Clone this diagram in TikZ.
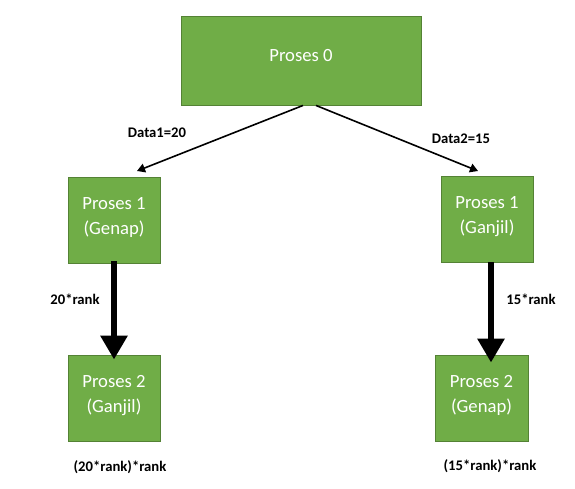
\documentclass[tikz,border=0pt]{standalone}
\usepackage{fontspec}
\setmainfont{Carlito}
\usetikzlibrary{arrows.meta}
\definecolor{boxgreen}{RGB}{112,173,71}
\definecolor{boxedge}{RGB}{84,130,53}
\tikzset{
  box/.style={draw=boxedge, line width=0.9pt, fill=boxgreen, text=white, inner sep=0pt,
    font=\fontsize{18.67pt}{25pt}\selectfont, align=center},
  lbl/.style={font=\fontsize{14.67pt}{17pt}\selectfont\bfseries, text=black, inner sep=0pt},
  thin/.style={line width=1.6pt, -{Triangle[length=8pt,width=9pt]}},
  bigarrow/.style={line width=6.5pt, -{Triangle[length=24pt,width=26pt]}}
}
\newcommand{\upby}[1]{\raisebox{3.5pt}[\height][\depth]{\begin{tabular}{@{}c@{}}#1\end{tabular}}}
\begin{document}
\begin{tikzpicture}[x=1pt,y=-1pt]
\useasboundingbox (0,0) rectangle (575,489);
\node[box, minimum width=240pt, minimum height=89pt] (p0) at (301,60.5) {\upby{Proses 0}};
\node[box, minimum width=92pt, minimum height=86pt] (p1l) at (114,220) {\upby{Proses 1\\(Genap)}};
\node[box, minimum width=92pt, minimum height=86pt] (p1r) at (487,219) {\upby{Proses 1\\(Ganjil)}};
\node[box, minimum width=92pt, minimum height=86pt] (p2l) at (114,398) {\upby{Proses 2\\(Ganjil)}};
\node[box, minimum width=93pt, minimum height=86pt] (p2r) at (481.5,398) {\upby{Proses 2\\(Genap)}};
\coordinate (tl) at (137,171);
\coordinate (tr) at (478,171);
\draw[thin] ([xshift=2pt]p0.south) -- (tl);
\draw[thin] ([xshift=15pt]p0.south) -- (tr);
\node[lbl] (d1) at (157,133) {Data1=20};
\node[lbl] (d2) at (461,139) {Data2=15};
\draw[bigarrow] ([yshift=2pt]p1l.south) -- ([yshift=-5pt]p2l.north);
\coordinate (rs) at ([xshift=4pt]p1r.south);
\coordinate (re) at ([yshift=-8pt]rs |- p2r.north);
\draw[bigarrow] (rs) -- (re);
\node[lbl] (r1) at (75,299) {20*rank};
\node[lbl] (r2) at (531,299) {15*rank};
\node[lbl] (f1) at (120,467) {(20*rank)*rank};
\node[lbl] (f2) at (490,466) {(15*rank)*rank};
\end{tikzpicture}
\end{document}
